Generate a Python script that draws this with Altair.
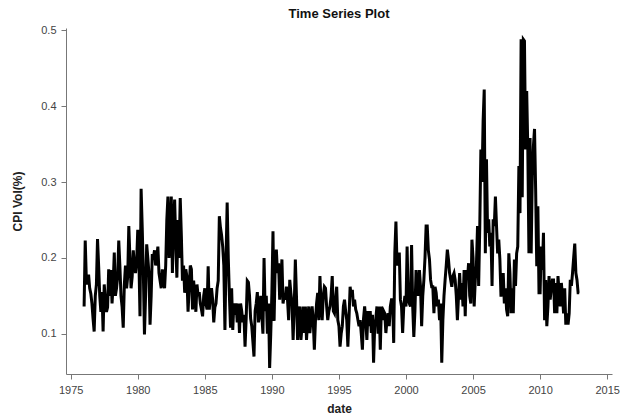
import altair as alt
import pandas as pd

# Monthly CPI volatility (%), January 1976 through December 2012
start_year = 1976
cpi_vol = [
    0.136, 0.223, 0.171, 0.165, 0.178, 0.160, 0.153, 0.140, 0.120, 0.103, 0.150, 0.165,  # 1976
    0.225, 0.190, 0.150, 0.129, 0.155, 0.103, 0.165, 0.145, 0.129, 0.135, 0.185, 0.150,  # 1977
    0.184, 0.140, 0.165, 0.207, 0.150, 0.160, 0.175, 0.223, 0.190, 0.150, 0.135, 0.108,  # 1978
    0.165, 0.190, 0.160, 0.175, 0.242, 0.200, 0.160, 0.175, 0.210, 0.190, 0.180, 0.195,  # 1979
    0.237, 0.200, 0.123, 0.291, 0.240, 0.180, 0.099, 0.150, 0.218, 0.200, 0.180, 0.112,  # 1980
    0.150, 0.205, 0.200, 0.210, 0.190, 0.200, 0.215, 0.180, 0.170, 0.160, 0.185, 0.170,  # 1981
    0.160, 0.190, 0.250, 0.281, 0.200, 0.237, 0.281, 0.180, 0.244, 0.277, 0.220, 0.174,  # 1982
    0.250, 0.200, 0.279, 0.230, 0.170, 0.190, 0.154, 0.185, 0.175, 0.129, 0.160, 0.190,  # 1983
    0.185, 0.132, 0.170, 0.150, 0.129, 0.165, 0.150, 0.155, 0.140, 0.132, 0.123, 0.150,  # 1984
    0.160, 0.140, 0.132, 0.189, 0.132, 0.150, 0.160, 0.145, 0.115, 0.135, 0.140, 0.160,  # 1985
    0.170, 0.255, 0.240, 0.230, 0.215, 0.190, 0.105, 0.200, 0.273, 0.200, 0.150, 0.108,  # 1986
    0.160, 0.105, 0.140, 0.125, 0.140, 0.115, 0.140, 0.101, 0.140, 0.130, 0.115, 0.125,  # 1987
    0.083, 0.120, 0.170, 0.168, 0.150, 0.120, 0.110, 0.090, 0.070, 0.130, 0.140, 0.155,  # 1988
    0.115, 0.125, 0.150, 0.125, 0.100, 0.200, 0.130, 0.150, 0.100, 0.140, 0.055, 0.100,  # 1989
    0.154, 0.235, 0.117, 0.193, 0.211, 0.180, 0.193, 0.145, 0.170, 0.198, 0.140, 0.150,  # 1990
    0.145, 0.162, 0.145, 0.118, 0.171, 0.154, 0.140, 0.092, 0.136, 0.198, 0.150, 0.092,  # 1991
    0.118, 0.136, 0.092, 0.110, 0.136, 0.101, 0.136, 0.092, 0.118, 0.136, 0.101, 0.118,  # 1992
    0.136, 0.118, 0.079, 0.118, 0.140, 0.154, 0.118, 0.176, 0.140, 0.118, 0.150, 0.162,  # 1993
    0.160, 0.136, 0.118, 0.130, 0.136, 0.150, 0.176, 0.130, 0.127, 0.145, 0.162, 0.118,  # 1994
    0.110, 0.083, 0.100, 0.110, 0.136, 0.145, 0.130, 0.118, 0.083, 0.120, 0.162, 0.150,  # 1995
    0.158, 0.136, 0.145, 0.132, 0.127, 0.118, 0.110, 0.118, 0.100, 0.079, 0.120, 0.136,  # 1996
    0.118, 0.092, 0.130, 0.110, 0.130, 0.101, 0.125, 0.062, 0.110, 0.120, 0.136, 0.100,  # 1997
    0.136, 0.079, 0.136, 0.118, 0.130, 0.127, 0.101, 0.118, 0.127, 0.110, 0.136, 0.145,  # 1998
    0.145, 0.088, 0.207, 0.248, 0.190, 0.198, 0.207, 0.145, 0.136, 0.101, 0.136, 0.150,  # 1999
    0.136, 0.215, 0.145, 0.140, 0.136, 0.217, 0.136, 0.096, 0.130, 0.184, 0.162, 0.150,  # 2000
    0.184, 0.162, 0.110, 0.150, 0.171, 0.200, 0.242, 0.242, 0.210, 0.198, 0.171, 0.162,  # 2001
    0.162, 0.127, 0.162, 0.154, 0.136, 0.145, 0.118, 0.140, 0.062, 0.118, 0.150, 0.171,  # 2002
    0.190, 0.211, 0.198, 0.180, 0.171, 0.162, 0.176, 0.180, 0.171, 0.150, 0.118, 0.150,  # 2003
    0.180, 0.145, 0.167, 0.136, 0.184, 0.123, 0.184, 0.171, 0.193, 0.150, 0.140, 0.224,  # 2004
    0.200, 0.136, 0.171, 0.190, 0.242, 0.163, 0.240, 0.343, 0.300, 0.380, 0.422, 0.206,  # 2005
    0.330, 0.233, 0.251, 0.215, 0.233, 0.163, 0.251, 0.242, 0.281, 0.242, 0.206, 0.224,  # 2006
    0.198, 0.149, 0.167, 0.180, 0.140, 0.160, 0.132, 0.123, 0.206, 0.180, 0.127, 0.160,  # 2007
    0.127, 0.198, 0.163, 0.206, 0.215, 0.321, 0.259, 0.488, 0.280, 0.488, 0.486, 0.343,  # 2008
    0.420, 0.343, 0.206, 0.358, 0.206, 0.308, 0.347, 0.370, 0.290, 0.189, 0.268, 0.154,  # 2009
    0.154, 0.215, 0.184, 0.233, 0.118, 0.171, 0.110, 0.136, 0.176, 0.145, 0.160, 0.171,  # 2010
    0.171, 0.127, 0.167, 0.127, 0.176, 0.154, 0.136, 0.167, 0.150, 0.127, 0.160, 0.112,  # 2011
    0.127, 0.112, 0.127, 0.171, 0.163, 0.180, 0.200, 0.219, 0.180, 0.171, 0.154, 0.154,  # 2012
]

year_ticks = [1975, 1980, 1985, 1990, 1995, 2000, 2005, 2010, 2015]
vol_ticks = [0.1, 0.2, 0.3, 0.4, 0.5]

# decimal year for each monthly observation
df = pd.DataFrame({
    "date": [start_year + i / 12 for i in range(len(cpi_vol))],
    "vol": cpi_vol,
})

FONT = "Liberation Sans"

chart = (
    alt.Chart(df)
    .mark_line(color="black", strokeWidth=3, clip=True)
    .encode(
        x=alt.X(
            "date:Q",
            title="date",
            scale=alt.Scale(domain=[1974.65, 2015.36], nice=False, zero=False),
            axis=alt.Axis(values=year_ticks, format="d"),
        ),
        y=alt.Y(
            "vol:Q",
            title="CPI Vol(%)",
            scale=alt.Scale(domain=[0.047, 0.503], nice=False, zero=False),
            axis=alt.Axis(values=vol_ticks, format=".1f"),
        ),
    )
    .properties(
        width=546,
        height=346,
        title=alt.Title(
            "Time Series Plot",
            frame="group",
            anchor="middle",
            font=FONT,
            fontSize=13,
            fontWeight="bold",
            color="#111",
            offset=3,
        ),
        autosize=alt.AutoSizeParams(type="none"),
        padding={"left": 66, "top": 28, "right": 17, "bottom": 46},
    )
    .configure_view(stroke=None)
    .configure_axis(
        grid=False,
        domainColor="#777",
        tickColor="#777",
        tickSize=5,
        labelFont=FONT,
        labelFontSize=11,
        labelColor="#444",
        labelPadding=5,
        titleFont=FONT,
        titleFontSize=12,
        titleFontWeight="bold",
        titleColor="#222",
    )
    .configure_axisX(titlePadding=8)
    .configure_axisY(titlePadding=16)
)

chart.save("out.html", embed_options={"renderer": "svg", "actions": False})
